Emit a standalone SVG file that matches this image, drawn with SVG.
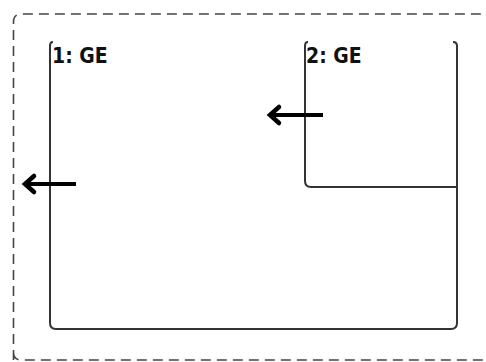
<svg xmlns="http://www.w3.org/2000/svg" width="486" height="362" viewBox="0 0 486 362">
<style>
.outer{fill:none;stroke:#444;stroke-width:1.6;stroke-dasharray:10 6}
.box{fill:none;stroke:#333;stroke-width:2}
.lbl{font-family:"DejaVu Sans Condensed","DejaVu Sans",sans-serif;font-size:21px;font-weight:bold;fill:#111}
.arr{fill:none;stroke:#000;stroke-width:4}
.head{fill:none;stroke:#000;stroke-width:4.5;stroke-linecap:round;stroke-linejoin:miter}
</style>
<rect width="486" height="362" fill="#fff"/>
<path class="outer" d="M13.5,360 L13.5,22 Q13.5,14 21.5,14 L500,14 M13.5,352 Q13.5,360 21.5,360 L500,360"/>
<g id="node1">
<path class="box" d="M53,42 Q50,42 50,46 L50,323 Q50,329 56,329 L451,329 Q457,329 457,323 L457,46 Q457,42 453,42"/>
<text class="lbl" x="52" y="63">1: GE</text>
</g>
<g id="node2">
<path class="box" d="M308,42 Q305,42 305,46 L305,181 Q305,187 311,187 L457,187"/>
<text class="lbl" x="306" y="63">2: GE</text>
</g>
<g id="connectors">
<line class="arr" x1="76" y1="184" x2="26" y2="184"/>
<path class="head" d="M34,176 L25,184 L34,192"/>
<line class="arr" x1="323" y1="115" x2="271" y2="115"/>
<path class="head" d="M279,107 L270,115 L279,123"/>
</g>
</svg>
